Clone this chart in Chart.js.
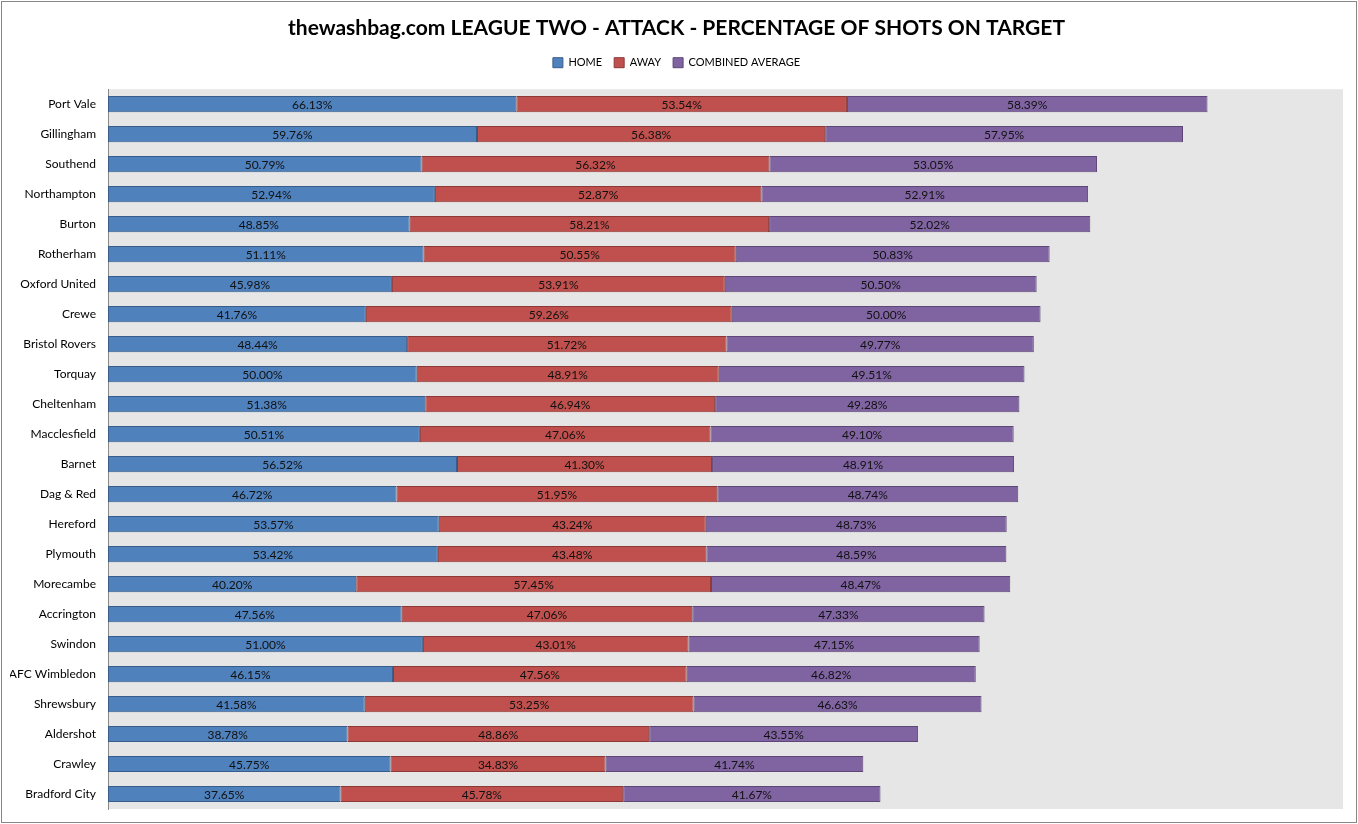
<!DOCTYPE html>
<html><head><meta charset="utf-8">
<script src="https://cdn.jsdelivr.net/npm/chart.js@4/dist/chart.umd.min.js"></script>
<style>html,body{margin:0;padding:0;background:#fff;}#wrap{width:1358px;height:824px;position:relative;}</style>
</head><body><div id="wrap"><canvas id="c" width="1358" height="824"></canvas></div>
<script>
const teams = ["Port Vale","Gillingham","Southend","Northampton","Burton","Rotherham","Oxford United","Crewe","Bristol Rovers","Torquay","Cheltenham","Macclesfield","Barnet","Dag & Red","Hereford","Plymouth","Morecambe","Accrington","Swindon","AFC Wimbledon","Shrewsbury","Aldershot","Crawley","Bradford City"];
const home = [66.13,59.76,50.79,52.94,48.85,51.11,45.98,41.76,48.44,50.00,51.38,50.51,56.52,46.72,53.57,53.42,40.20,47.56,51.00,46.15,41.58,38.78,45.75,37.65];
const away = [53.54,56.38,56.32,52.87,58.21,50.55,53.91,59.26,51.72,48.91,46.94,47.06,41.30,51.95,43.24,43.48,57.45,47.06,43.01,47.56,53.25,48.86,34.83,45.78];
const combined = [58.39,57.95,53.05,52.91,52.02,50.83,50.50,50.00,49.77,49.51,49.28,49.10,48.91,48.74,48.73,48.59,48.47,47.33,47.15,46.82,46.63,43.55,41.74,41.67];
const seriesNames = ["HOME","AWAY","COMBINED AVERAGE"];
const titleText = "thewashbag.com LEAGUE TWO - ATTACK - PERCENTAGE OF SHOTS ON TARGET";
const xMax = 200;

const FONT = "Lato, 'Open Sans', sans-serif";

const bgPlugin = {
  id: 'bg',
  beforeDraw(chart) {
    const {ctx, chartArea: a} = chart;
    ctx.save();
    ctx.fillStyle = '#fff';
    ctx.fillRect(0, 0, chart.width, chart.height);
    ctx.strokeStyle = '#878787';
    ctx.lineWidth = 1;
    ctx.strokeRect(1.5, 1.5, chart.width - 3, chart.height - 3);
    ctx.fillStyle = '#E6E6E6';
    ctx.fillRect(a.left, a.top, a.right - a.left, a.bottom - a.top);
    ctx.restore();
  }
};

const legendSpace = {
  id: 'legendSpace',
  beforeInit(chart) {
    const origFit = chart.legend.fit;
    chart.legend.fit = function () {
      origFit.bind(chart.legend)();
      this.height += 11;
    };
  }
};

const labelPlugin = {
  id: 'barLabels',
  afterDatasetsDraw(chart) {
    const ctx = chart.ctx;
    ctx.save();
    ctx.font = "12px " + FONT;
    ctx.fillStyle = '#111';
    ctx.textAlign = 'center';
    ctx.textBaseline = 'middle';
    chart.data.datasets.forEach((ds, di) => {
      const meta = chart.getDatasetMeta(di);
      meta.data.forEach((bar, i) => {
        const cx = (bar.x + bar.base) / 2;
        ctx.fillText(ds.data[i].toFixed(2) + '%', cx, bar.y + 1);
      });
    });
    ctx.restore();
  }
};

new Chart(document.getElementById('c'), {
  type: 'bar',
  data: {
    labels: teams,
    datasets: [
      {label: seriesNames[0], data: home, backgroundColor: '#4F81BD', borderColor: '#385D8A', borderWidth: 1, borderSkipped: false},
      {label: seriesNames[1], data: away, backgroundColor: '#C0504D', borderColor: '#8C3836', borderWidth: 1, borderSkipped: false},
      {label: seriesNames[2], data: combined, backgroundColor: '#8064A2', borderColor: '#5C4776', borderWidth: 1, borderSkipped: false}
    ]
  },
  options: {
    indexAxis: 'y',
    responsive: false,
    animation: false,
    devicePixelRatio: 1,
    layout: {padding: {left: 10, right: 15, top: 8, bottom: 15}},
    datasets: {bar: {barPercentage: 0.54, categoryPercentage: 1.0}},
    scales: {
      x: {stacked: true, min: 0, max: xMax, display: false},
      y: {
        stacked: true,
        grid: {display: false, drawTicks: false},
        border: {display: true, color: '#888', width: 1},
        ticks: {color: '#000', font: {size: 12, family: FONT}, padding: 12},
        afterFit(scale) { scale.width = 98; scale.paddingTop = 0; scale.paddingBottom = 0; }
      }
    },
    plugins: {
      title: {display: true, text: titleText, color: '#000', font: {size: 21, weight: 'bold', family: FONT}, padding: {top: 8, bottom: 4}},
      legend: {
        display: true,
        labels: {boxWidth: 10, boxHeight: 10, color: '#000', font: {size: 11, family: FONT}, padding: 12},
      },
      tooltip: {enabled: false}
    }
  },
  plugins: [bgPlugin, legendSpace, labelPlugin]
});
</script>
</body></html>
